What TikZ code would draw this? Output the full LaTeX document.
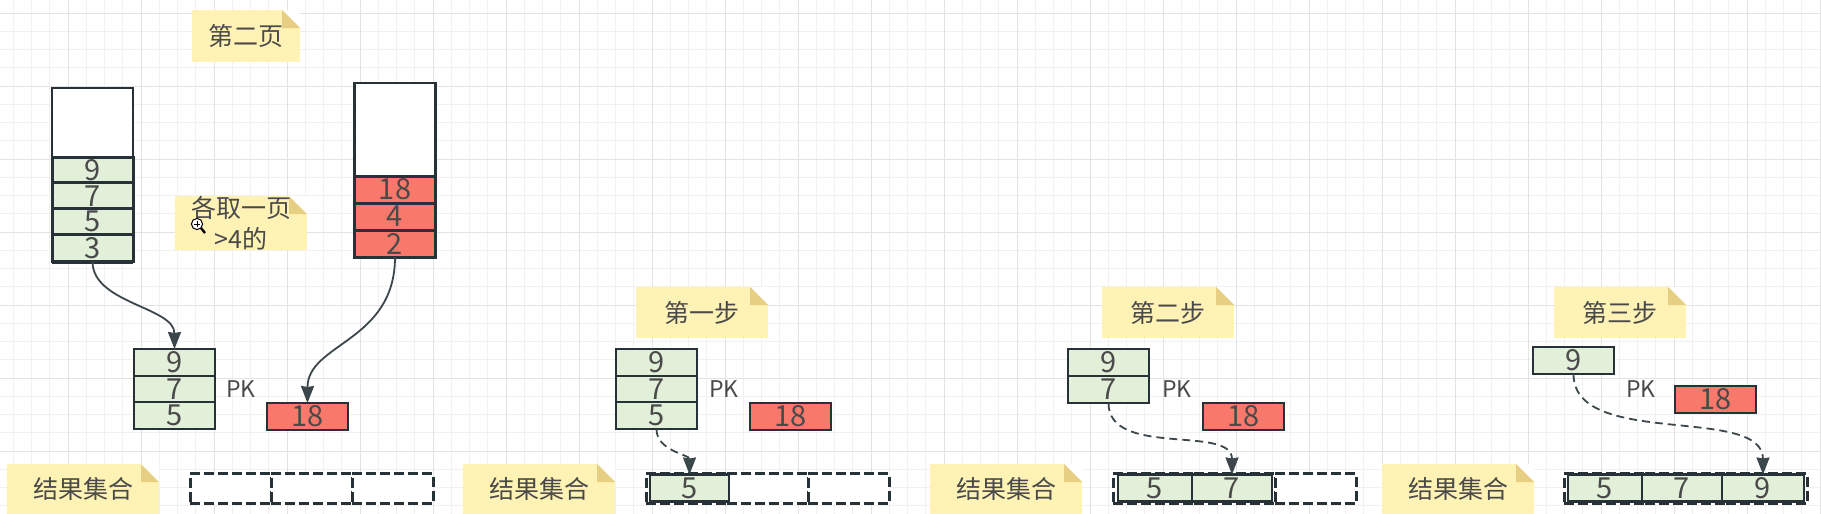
\documentclass[tikz,border=0pt]{standalone}
\usepackage{fontspec}
\setmainfont{Noto Sans CJK SC}
\usetikzlibrary{arrows.meta}
\definecolor{gridminor}{HTML}{F1F1F1}
\definecolor{gridmajor}{HTML}{E3E3E3}
\definecolor{linecol}{HTML}{263238}
\definecolor{textcol}{HTML}{4A4A4A}
\definecolor{greenfill}{HTML}{E2EFD9}
\definecolor{redfill}{HTML}{F8796B}
\definecolor{notefill}{HTML}{FFF2B5}
\definecolor{notefold}{HTML}{E6CF82}

\begin{document}
\begin{tikzpicture}[x=0.5pt,y=-0.5pt]
		\tikzstyle{Note} = [rectangle, inner sep=0pt, outer sep=0pt, fill=notefill, text=textcol, font=\fontsize{12.5}{15.5}\selectfont, align=center,
			path picture={
				\fill[white] (path picture bounding box.north east) ++(-9pt,0) -- ++(9pt,0) -- ++(0,-9pt) -- cycle;
				\fill[notefold] (path picture bounding box.north east) ++(-9pt,0) -- ++(9pt,-9pt) -- ++(-9pt,0) -- cycle;}]
		\tikzstyle{Cell} = [rectangle, inner sep=0pt, outer sep=0pt, minimum width=40.5pt, minimum height=13.5pt, draw=linecol, line width=1.2pt, text=textcol, font=\fontsize{14.5}{14.5}\selectfont]
		\tikzstyle{Green} = [Cell, fill=greenfill]
		\tikzstyle{Red} = [Cell, fill=redfill]
		\tikzstyle{Slot} = [Cell, fill=white, dash pattern=on 5pt off 2pt, line width=1.5pt, minimum height=15pt]
		\tikzstyle{Pk} = [inner sep=0pt, text=textcol, font=\fontsize{11.5}{11.5}\selectfont]
		\tikzstyle{arrow} = [line width=0.9pt, draw=linecol!90, ->, >={Stealth[length=8.5pt,width=6.5pt,inset=0.5pt]}]
		\tikzstyle{darrow} = [arrow, dash pattern=on 4pt off 2.5pt]

		\useasboundingbox (0,0) rectangle (1821,514);
		\fill[white] (0,0) rectangle (1821,514);

		% grid
		\foreach \x in {-5,13.25,...,1821}
			\draw[gridminor, line width=0.5pt] (\x,0) -- (\x,514);
		\foreach \y in {13,31.25,...,514}
			\draw[gridminor, line width=0.5pt] (0,\y) -- (1821,\y);
		\foreach \x in {68,141,...,1821}
			\draw[gridmajor, line width=0.5pt] (\x,0) -- (\x,514);
		\foreach \y in {13,86,...,514}
			\draw[gridmajor, line width=0.5pt] (0,\y) -- (1821,\y);

		% notes
		\node (page2) [Note, minimum width=54pt, minimum height=26pt] at (246,36) {第二页};
		\node (each) [Note, minimum width=66pt, minimum height=26pt] at (241,223) {各取一页\\>4的};
		\node (step1) [Note, minimum width=66pt, minimum height=25.5pt] at (702,312.5) {第一步};
		\node (step2) [Note, minimum width=66pt, minimum height=25.5pt] at (1168,312.5) {第二步};
		\node (step3) [Note, minimum width=66pt, minimum height=25.5pt] at (1620,312.5) {第三步};
		\foreach \x/\n in {83/a,539/b,1006/c,1458/d}
			\node (res\n) [Note, minimum width=76pt, minimum height=25pt] at (\x,489) {结果集合};

		% left and right page
		\node (left0) [Cell, fill=white, minimum height=34.5pt] at (92.5,122.5) {};
		\foreach \y/\t/\n in {170.5/9/1,196/7/2,221.5/5/3,248/3/4}
			\node (left\n) [Green, line width=1.5pt] at (92.5,\y) {\t};
		\draw[linecol, line width=2pt] (left4.south west) -- (left4.south east);
		\node (right0) [Cell, fill=white, minimum height=46.5pt] at (395,129.5) {};
		\foreach \y/\t/\n in {189.5/18/1,216.5/4/2,243.5/2/3}
			\node (right\n) [Red, line width=1.5pt] at (395,\y) {\t};

		% the four stages
		\foreach \y/\t/\n in {362.5/9/1,389.5/7/2,415.5/5/3} {
			\node (a\n) [Green] at (174.5,\y) {\t};
			\node (b\n) [Green] at (656.5,\y) {\t};
		}
		\foreach \y/\t/\n in {362.5/9/1,389.5/7/2}
			\node (c\n) [Green] at (1108.5,\y) {\t};
		\node (d1) [Green] at (1573.5,360.5) {9};
		\foreach \x/\n in {241/a,724/b,1177/c,1641/d}
			\node (pk\n) [Pk] at (\x,389) {PK};
		\foreach \x/\y/\n in {307.5/416.5/a,790.5/416.5/b,1243.5/416.5/c,1715.5/399.5/d}
			\node (big\n) [Red] at (\x,\y) {18};

		% result sets
		\foreach \x/\n in {190/a,646/b,1113/c,1564/d} {
			\node (slot\n1) [Slot] at (\x+40.5,488.5) {};
			\node (slot\n2) [Slot] at (\x+121.5,488.5) {};
			\node (slot\n3) [Slot] at (\x+202.5,488.5) {};
		}
		\node (rb1) [Green, minimum width=39.5pt] at (689.5,488) {5};
		\node (rc1) [Green, minimum width=37pt] at (1155,488) {5};
		\node (rc2) [Green, minimum width=40pt] at (1232,488) {7};
		\node (rd1) [Green, minimum width=37pt] at (1605,488) {5};
		\node (rd2) [Green, minimum width=40pt] at (1682,488) {7};
		\node (rd3) [Green, minimum width=41pt] at (1763,488) {9};

		% connectors
		\draw[arrow] (left4.south) .. controls +(0,42) and +(0,-42) .. (a1.north);
		\draw[arrow] (right3.south) .. controls +(0,85) and +(0,-60) .. (biga.north);
		\draw[darrow] (b3.south) .. controls +(0,22) and +(0,-20) .. (rb1.north);
		\draw[darrow] (c2.south) .. controls +(0,55) and +(0,-50) .. (rc2.north);
		\draw[darrow] (d1.south) .. controls +(0,75) and +(0,-70) .. (rd3.north);

		% cursor
		\draw[black, line width=0.5pt, fill=white] (197,224) circle (2.8pt);
		\draw[black, line width=0.4pt] (194,224) -- (200,224) (197,221) -- (197,227);
		\draw[black, line width=1.2pt] (201,228) -- (205,233);
\end{tikzpicture}
\end{document}
